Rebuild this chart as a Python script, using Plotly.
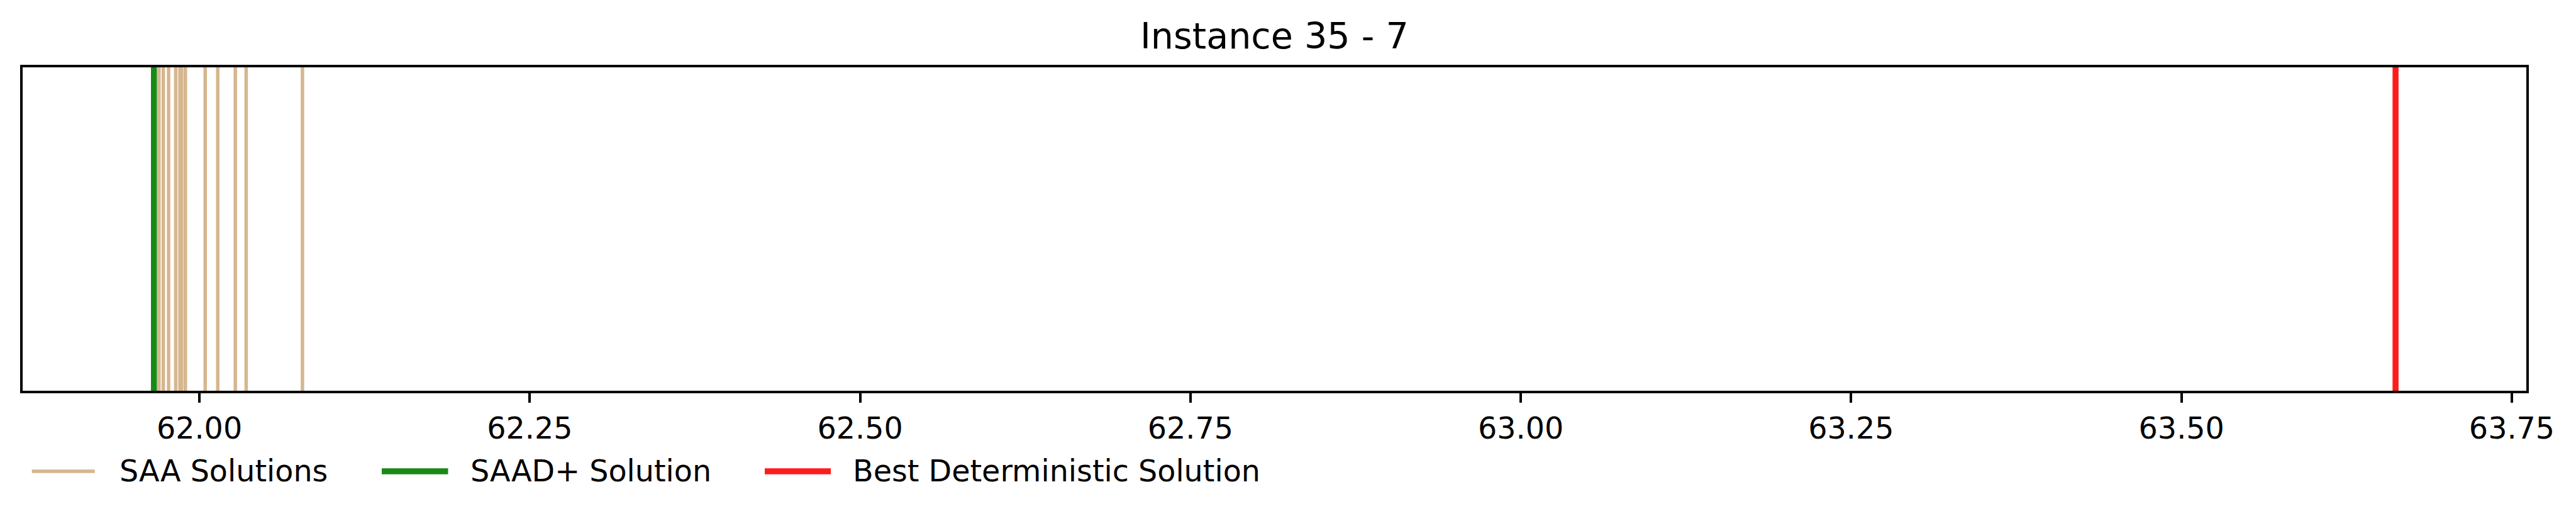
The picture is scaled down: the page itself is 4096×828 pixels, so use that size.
import plotly.graph_objects as go

# ---------------- data ----------------
title_text = "Instance 35 - 7"
saa_solutions = [61.9656, 61.9694, 61.9727, 61.9767, 61.9821, 61.9853, 61.9865,
                 61.9894, 62.0044, 62.0139, 62.0272, 62.0354, 62.0780]
saad_plus_solution = [61.9656]
best_deterministic_solution = [63.662]
legend_labels = ["SAA Solutions", "SAAD+ Solution", "Best Deterministic Solution"]
tick_values = [62.00, 62.25, 62.50, 62.75, 63.00, 63.25, 63.50, 63.75]
tick_labels = ["62.00", "62.25", "62.50", "62.75", "63.00", "63.25", "63.50", "63.75"]
x_range = [61.86624, 63.76096]

# ---------------- styling ----------------
# the page body has an 8px default margin; size the figure so it fills the window exactly
OFF = 8
W, H = 4096 - OFF, 828 - OFF
ML, MR, MT, MB = 36 - OFF, 79, 107 - OFF, 207
PW = W - ML - MR
PH = H - MT - MB
FONT = "DejaVu Sans"
TAN = "rgb(213,182,142)"
GREEN = "rgb(25,137,22)"
RED = "rgb(255,27,27)"
colors = [TAN, GREEN, RED]
widths = [5.5, 9.5, 9.5]


def xp(px):
    """page x pixel -> paper coordinate"""
    return (px - OFF - ML) / PW


def yp(py):
    """page y pixel -> paper coordinate"""
    return (MT + PH - (py - OFF)) / PH


fig = go.Figure()
# invisible trace so the axes exist
fig.add_trace(go.Scatter(x=x_range, y=[0, 1], mode="markers",
                         marker=dict(opacity=0), hoverinfo="skip", showlegend=False))

shapes = []
for v in saa_solutions:
    shapes.append(dict(type="line", xref="x", yref="paper", x0=v, x1=v, y0=0, y1=1,
                       line=dict(color=TAN, width=widths[0])))
for v in saad_plus_solution:
    shapes.append(dict(type="line", xref="x", yref="paper", x0=v, x1=v, y0=0, y1=1,
                       line=dict(color=GREEN, width=widths[1])))
for v in best_deterministic_solution:
    shapes.append(dict(type="line", xref="x", yref="paper", x0=v, x1=v, y0=0, y1=1,
                       line=dict(color=RED, width=widths[2])))

# manual legend (below the plot, left aligned)
handle_x = [(50.7, 150.8), (607, 712.5), (1216, 1321)]
text_x = [188, 746, 1353.5]
leg_y = 749
annotations = []
for lab, col, w, (hx0, hx1), tx in zip(legend_labels, colors, widths, handle_x, text_x):
    shapes.append(dict(type="line", xref="paper", yref="paper",
                       x0=xp(hx0), x1=xp(hx1), y0=yp(leg_y), y1=yp(leg_y),
                       line=dict(color=col, width=w)))
    annotations.append(dict(text=lab, xref="paper", yref="paper", x=xp(tx), y=yp(leg_y - 0.5),
                            xanchor="left", yanchor="middle", showarrow=False,
                            font=dict(family=FONT, size=47.6, color="black")))

annotations.append(dict(text=title_text, xref="paper", yref="paper", x=0.5, y=yp(57),
                        xanchor="center", yanchor="middle", showarrow=False,
                        font=dict(family=FONT, size=57.1, color="black")))

fig.update_layout(
    width=W, height=H,
    margin=dict(l=ML, r=MR, t=MT, b=MB, pad=0),
    paper_bgcolor="white", plot_bgcolor="white",
    shapes=shapes, annotations=annotations,
    showlegend=False,
    font=dict(family=FONT, size=47.6, color="black"),
)
fig.update_xaxes(range=x_range, tickmode="array", tickvals=tick_values, ticktext=tick_labels,
                 ticks="outside", ticklen=15, tickwidth=3.5, tickcolor="black",
                 showline=True, linecolor="black", linewidth=3.6, mirror=True,
                 showgrid=False, zeroline=False,
                 tickfont=dict(family=FONT, size=47.6, color="black"))
fig.update_yaxes(range=[0, 1], showticklabels=False, ticks="",
                 showline=True, linecolor="black", linewidth=3.6, mirror=True,
                 showgrid=False, zeroline=False)

fig.write_html("out.html")
